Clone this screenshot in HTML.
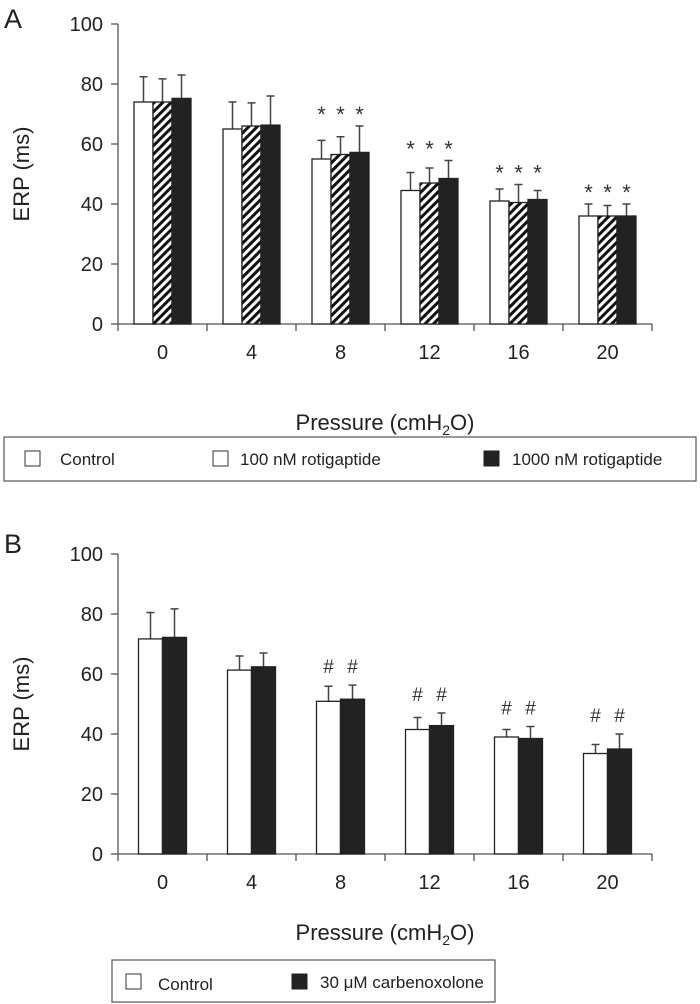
<!DOCTYPE html>
<html><head><meta charset="utf-8"><style>
body{margin:0;background:#fff;}
svg{display:block;font-family:"Liberation Sans",sans-serif;}
</style></head><body>
<svg id="chart" width="700" height="1004">
<defs>
<pattern id="hatch" patternUnits="userSpaceOnUse" width="6" height="6" patternTransform="rotate(45)">
<rect width="6" height="6" fill="#fff"/><rect width="3" height="6" fill="#111"/>
</pattern>
</defs>
<g id="gA"></g>
<g id="gB"></g>
<g>
<rect x="4" y="437" width="692" height="44" fill="#fff" stroke="#555" stroke-width="1.2"/>
<rect x="25" y="451" width="15" height="15" fill="#fff" stroke="#333"/>
<text x="60" y="465" font-size="17" fill="#222">Control</text>
<rect x="213" y="451" width="15" height="15" fill="#fff" stroke="#333"/>
<text x="240" y="465" font-size="17" fill="#222">100 nM rotigaptide</text>
<rect x="484" y="451" width="15" height="15" fill="#222" stroke="#222"/>
<text x="512" y="465" font-size="17" fill="#222">1000 nM rotigaptide</text>
</g>
<g>
<rect x="112" y="960" width="383" height="42" fill="#fff" stroke="#555" stroke-width="1.2"/>
<rect x="126" y="974" width="15" height="15" fill="#fff" stroke="#333"/>
<text x="158" y="990" font-size="17" fill="#222">Control</text>
<rect x="292" y="974" width="15" height="15" fill="#222" stroke="#222"/>
<text x="320" y="988" font-size="17" fill="#222">30 μM carbenoxolone</text>
</g>
</svg>
<script>
const categories = ["0","4","8","12","16","20"];
const yTicks = [0,20,40,60,80,100];
const aControl = [74,65,55,44.5,41,36];
const aControlErr = [82.4,74,61.2,50.5,45,40];
const a100 = [74,66,56.5,47,40.5,36];
const a100Err = [81.7,73.7,62.4,52,46.5,39.5];
const a1000 = [75.2,66.3,57.2,48.5,41.5,36];
const a1000Err = [83,76,66,54.5,44.5,40];
const aMarks = ["","","*","*","*","*"];
const bControl = [71.7,61.3,50.9,41.5,39,33.5];
const bControlErr = [80.5,66,55.9,45.5,41.5,36.5];
const bCarb = [72.2,62.4,51.6,42.8,38.5,35];
const bCarbErr = [81.7,67,56.3,47,42.5,40];
const bMarks = ["","","#","#","#","#"];

const NS="http://www.w3.org/2000/svg";
function mk(parent,tag,attrs,text){const e=document.createElementNS(NS,tag);for(const k in attrs)e.setAttribute(k,attrs[k]);if(text!==undefined)e.textContent=text;parent.appendChild(e);return e;}

function panel(g,cfg){
  const x0=118,y0=cfg.y0,step=89,ppu=3;
  const yS=v=>y0-v*ppu;
  const xC=i=>x0+step*(i+0.5);
  const ax=mk(g,'path',{d:`M${x0} ${yS(100)}V${y0}H${x0+step*6}`,stroke:'#555',fill:'none','stroke-width':1.3});
  
  
  yTicks.forEach(t=>{
    mk(g,'line',{x1:x0-7,x2:x0,y1:yS(t),y2:yS(t),stroke:'#555','stroke-width':1.3});
    const tl=mk(g,'text',{x:x0-15,y:yS(t)+7,'text-anchor':'end','font-size':20,fill:'#222'},t);
    
    
  });
  categories.forEach((c,i)=>{
    mk(g,'line',{x1:x0+step*i,x2:x0+step*i,y1:y0,y2:y0+7,stroke:'#555','stroke-width':1.3});
    const tl=mk(g,'text',{x:xC(i),y:y0+35,'text-anchor':'middle','font-size':20,fill:'#222'},c);
    
    
  });
  mk(g,'line',{x1:x0+step*6,x2:x0+step*6,y1:y0,y2:y0+7,stroke:'#555','stroke-width':1.3});
  const n=cfg.series.length,bw=cfg.bw;
  categories.forEach((c,i)=>{
    let top=1e9;
    cfg.series.forEach((s,j)=>{
      const bx=xC(i)-n*bw/2+j*bw;
      const cx=bx+bw/2;
      const et=yS(s.err[i]);top=Math.min(top,et);
      const el=mk(g,'path',{d:`M${cx} ${yS(s.vals[i])}V${et}M${cx-4} ${et}H${cx+4}`,stroke:'#444','stroke-width':1.5,fill:'none'});
      
      
      const r=mk(g,'rect',{x:bx,y:yS(s.vals[i]),width:bw,height:s.vals[i]*ppu,fill:s.fill,stroke:'#222','stroke-width':1.3});
      
      
    });
    if(cfg.marks[i]){
      cfg.series.forEach((s,j)=>{
        const bx=xC(i)-n*bw/2+j*bw+bw/2;
        const m=mk(g,'text',{x:bx,y:top-cfg.mOff,'text-anchor':'middle','font-size':cfg.mSize,fill:'#333'},cfg.marks[i]);
        
        
      });
    }
  });
  const yt=mk(g,'text',{x:0,y:0,transform:`translate(29 ${yS(50)}) rotate(-90)`,'text-anchor':'middle','font-size':22,fill:'#222'},'ERP (ms)');
  
  
  const xt=mk(g,'text',{x:x0+step*3,y:y0+cfg.titleOff,'text-anchor':'middle','font-size':22,fill:'#222'});
  
  
  xt.innerHTML='Pressure (cmH<tspan font-size="14" dy="5">2</tspan><tspan dy="-5">O)</tspan>';
  const pl=mk(g,'text',{x:4,y:cfg.labelY,'font-size':27,fill:'#222'},cfg.label);
  
  
}
panel(document.getElementById('gA'),{y0:324,bw:19,label:'A',labelY:28,titleOff:106,marks:aMarks,mOff:4,mSize:22,series:[
  {name:'control',vals:aControl,err:aControlErr,fill:'#fff'},
  {name:'100nm',vals:a100,err:a100Err,fill:'url(#hatch)'},
  {name:'1000nm',vals:a1000,err:a1000Err,fill:'#222'}]});
panel(document.getElementById('gB'),{y0:854,bw:24,label:'B',labelY:553,titleOff:86,marks:bMarks,mOff:12,mSize:19,series:[
  {name:'control',vals:bControl,err:bControlErr,fill:'#fff'},
  {name:'carbenoxolone',vals:bCarb,err:bCarbErr,fill:'#222'}]});
</script>
</body></html>
